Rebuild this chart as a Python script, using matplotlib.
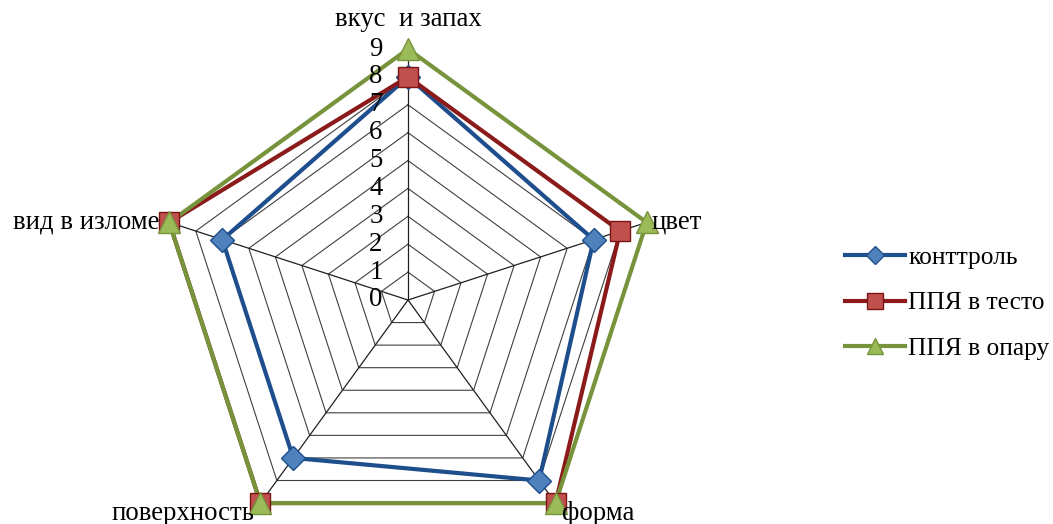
import numpy as np
import matplotlib
matplotlib.use("Agg")
import matplotlib.pyplot as plt
from matplotlib.lines import Line2D

plt.rcParams['font.family'] = ['Liberation Serif', 'DejaVu Serif']

categories = ["вкус  и запах", "цвет", "форма", "поверхность", "вид в изломе"]
series_names = ["конттроль", "ППЯ в тесто", "ППЯ в опару"]
control = [8, 7, 8, 7, 7]
in_dough = [8, 8, 9, 9, 9]
in_sponge = [9, 9, 9, 9, 9]
tick_values = [0, 1, 2, 3, 4, 5, 6, 7, 8, 9]

W, H = 1053, 524
FS = 19.3
fig = plt.figure(figsize=(W / 100, H / 100), dpi=100)

cx, cy, R = 408, 300, 251
ax = fig.add_axes([(cx - R) / W, (H - cy - R) / H, 2 * R / W, 2 * R / H],
                  projection='polar')
ax.set_theta_offset(np.pi / 2)
ax.set_theta_direction(-1)
ax.set_ylim(0, 9)
ax.set_axis_off()

n = len(categories)
angles = np.linspace(0, 2 * np.pi, n, endpoint=False)
closed = np.concatenate([angles, angles[:1]])

# polygon grid and spokes
for lvl in tick_values[1:]:
    ax.plot(closed, [lvl] * (n + 1), color='#404040', lw=0.8, zorder=1)
for a in angles:
    ax.plot([a, a], [0, 9], color='#202020', lw=0.9, zorder=1)

styles = [
    dict(data=control, color='#1F4E8C', mfc='#4F81BD', mec='#1F4E8C', marker='D', ms=12, lms=9),
    dict(data=in_dough, color='#8B1A1A', mfc='#C0504D', mec='#7A1414', marker='s', ms=15, lms=11),
    dict(data=in_sponge, color='#77933C', mfc='#9BBB59', mec='#77933C', marker='^', ms=16, lms=12),
]
handles = []
for i, (name, st) in enumerate(zip(series_names, styles)):
    vals = list(st['data']) + [st['data'][0]]
    ax.plot(closed, vals, color=st['color'], lw=3, zorder=3 + i, clip_on=False)
    ax.plot(angles, st['data'], ls='none', marker=st['marker'], ms=st['ms'],
            mfc=st['mfc'], mec=st['mec'], mew=1, zorder=6 + i, clip_on=False)
    handles.append(Line2D([0], [0], color=st['color'], lw=3, marker=st['marker'],
                          ms=st['lms'], mfc=st['mfc'], mec=st['mec']))

# radial tick labels
for v in tick_values:
    ax.annotate(str(v), xy=(0, v), xytext=(-32, 0), textcoords='offset pixels',
                ha='center', va='center', fontsize=FS, zorder=10)

# category labels
label_offsets = [
    ((0, 30), 'center', 'center'),
    ((5, 0), 'left', 'center'),
    ((6, -10), 'left', 'center'),
    ((-6, -10), 'right', 'center'),
    ((-10, 0), 'right', 'center'),
]
for a, lab, (off, ha, va) in zip(angles, categories, label_offsets):
    ax.annotate(lab, xy=(a, 9), xytext=off, textcoords='offset pixels',
                ha=ha, va=va, fontsize=FS, zorder=10, annotation_clip=False)

LFS = 18.4
fig.legend(handles, series_names, loc='center left',
           bbox_to_anchor=(845 / W, 1 - 303 / H), frameon=False, fontsize=LFS,
           handlelength=2.35, handletextpad=0.12, labelspacing=0.88,
           borderpad=0, borderaxespad=0)

fig.savefig("out.png", dpi=100)
